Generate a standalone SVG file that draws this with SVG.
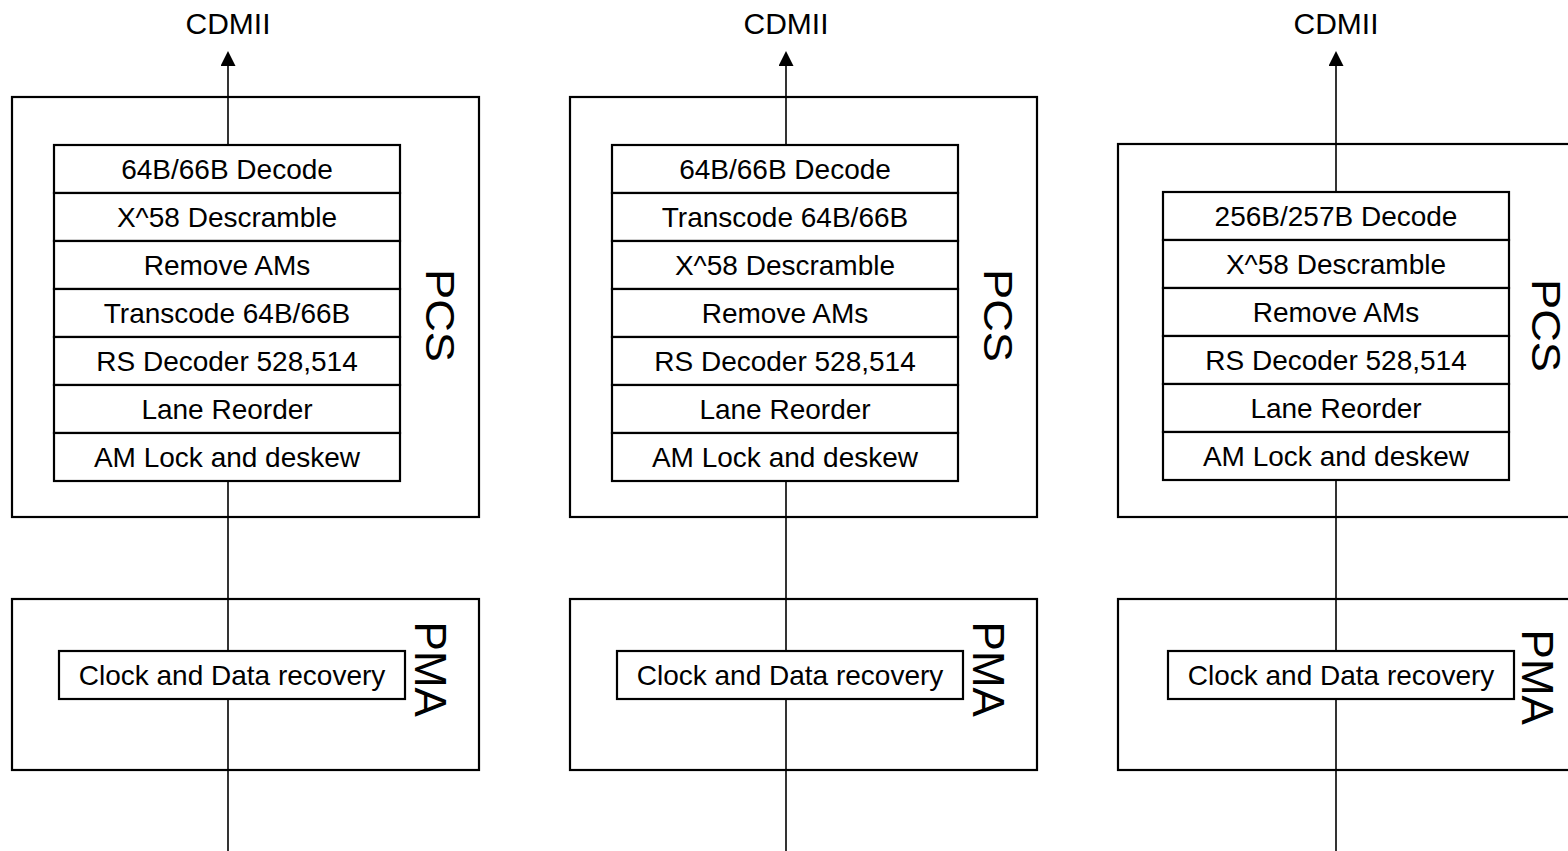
<svg xmlns="http://www.w3.org/2000/svg" width="1568" height="851" viewBox="0 0 1568 851">
<style>
.box{fill:none;stroke:#000;stroke-width:2.2}
.blk{fill:#fff;stroke:#000;stroke-width:2.2}
.ln{fill:none;stroke:#000;stroke-width:1.6}
.t{font-family:"Liberation Sans",Arial,sans-serif;font-size:28px;fill:#000;text-anchor:middle}
.h{font-family:"Liberation Sans",Arial,sans-serif;font-size:30px;fill:#000;text-anchor:middle}
.pcs{font-family:"Liberation Sans",Arial,sans-serif;font-size:40px;fill:#000}
.pma{font-family:"Liberation Sans",Arial,sans-serif;font-size:44px;fill:#000}
</style>
<defs>
<marker id="arr" markerUnits="userSpaceOnUse" viewBox="0 0 15 15" refX="6" refY="7.5" markerWidth="15" markerHeight="15" orient="auto">
<path d="M0,0 L15,7.5 L0,15 z" fill="#000"/>
</marker>
</defs>
<rect width="1568" height="851" fill="#fff"/>

<g id="connectors">
<line class="ln" x1="228" y1="145" x2="228" y2="60" marker-end="url(#arr)"/>
<line class="ln" x1="228" y1="481" x2="228" y2="651"/>
<line class="ln" x1="228" y1="699" x2="228" y2="851"/>
<line class="ln" x1="786" y1="145" x2="786" y2="60" marker-end="url(#arr)"/>
<line class="ln" x1="786" y1="481" x2="786" y2="651"/>
<line class="ln" x1="786" y1="699" x2="786" y2="851"/>
<line class="ln" x1="1336" y1="192" x2="1336" y2="60" marker-end="url(#arr)"/>
<line class="ln" x1="1336" y1="480" x2="1336" y2="651"/>
<line class="ln" x1="1336" y1="699" x2="1336" y2="851"/>
</g>

<g id="cdmii1"><text class="h" x="228" y="34">CDMII</text></g>
<g id="cdmii2"><text class="h" x="786" y="34">CDMII</text></g>
<g id="cdmii3"><text class="h" x="1336" y="34">CDMII</text></g>

<g id="pcs1">
<rect class="box" x="12" y="97" width="467" height="420"/>
<text class="pcs" transform="translate(426,269) rotate(90)" textLength="93" lengthAdjust="spacingAndGlyphs">PCS</text>
</g>
<g id="stack1">
<rect class="blk" x="54" y="145" width="346" height="48"/><text class="t" x="227" y="179">64B/66B Decode</text>
<rect class="blk" x="54" y="193" width="346" height="48"/><text class="t" x="227" y="227">X^58 Descramble</text>
<rect class="blk" x="54" y="241" width="346" height="48"/><text class="t" x="227" y="275">Remove AMs</text>
<rect class="blk" x="54" y="289" width="346" height="48"/><text class="t" x="227" y="323">Transcode 64B/66B</text>
<rect class="blk" x="54" y="337" width="346" height="48"/><text class="t" x="227" y="371">RS Decoder 528,514</text>
<rect class="blk" x="54" y="385" width="346" height="48"/><text class="t" x="227" y="419">Lane Reorder</text>
<rect class="blk" x="54" y="433" width="346" height="48"/><text class="t" x="227" y="467">AM Lock and deskew</text>
</g>
<g id="pma1">
<rect class="box" x="12" y="599" width="467" height="171"/>
<text class="pma" transform="translate(415,621.6) rotate(90)">PMA</text>
</g>
<g id="cdr1">
<rect class="blk" x="59" y="651" width="346" height="48"/><text class="t" x="232" y="685">Clock and Data recovery</text>
</g>

<g id="pcs2">
<rect class="box" x="570" y="97" width="467" height="420"/>
<text class="pcs" transform="translate(984,269) rotate(90)" textLength="93" lengthAdjust="spacingAndGlyphs">PCS</text>
</g>
<g id="stack2">
<rect class="blk" x="612" y="145" width="346" height="48"/><text class="t" x="785" y="179">64B/66B Decode</text>
<rect class="blk" x="612" y="193" width="346" height="48"/><text class="t" x="785" y="227">Transcode 64B/66B</text>
<rect class="blk" x="612" y="241" width="346" height="48"/><text class="t" x="785" y="275">X^58 Descramble</text>
<rect class="blk" x="612" y="289" width="346" height="48"/><text class="t" x="785" y="323">Remove AMs</text>
<rect class="blk" x="612" y="337" width="346" height="48"/><text class="t" x="785" y="371">RS Decoder 528,514</text>
<rect class="blk" x="612" y="385" width="346" height="48"/><text class="t" x="785" y="419">Lane Reorder</text>
<rect class="blk" x="612" y="433" width="346" height="48"/><text class="t" x="785" y="467">AM Lock and deskew</text>
</g>
<g id="pma2">
<rect class="box" x="570" y="599" width="467" height="171"/>
<text class="pma" transform="translate(973,621.6) rotate(90)">PMA</text>
</g>
<g id="cdr2">
<rect class="blk" x="617" y="651" width="346" height="48"/><text class="t" x="790" y="685">Clock and Data recovery</text>
</g>

<g id="pcs3">
<rect class="box" x="1118" y="144" width="467" height="373"/>
<text class="pcs" transform="translate(1532,279) rotate(90)" textLength="93" lengthAdjust="spacingAndGlyphs">PCS</text>
</g>
<g id="stack3">
<rect class="blk" x="1163" y="192" width="346" height="48"/><text class="t" x="1336" y="226">256B/257B Decode</text>
<rect class="blk" x="1163" y="240" width="346" height="48"/><text class="t" x="1336" y="274">X^58 Descramble</text>
<rect class="blk" x="1163" y="288" width="346" height="48"/><text class="t" x="1336" y="322">Remove AMs</text>
<rect class="blk" x="1163" y="336" width="346" height="48"/><text class="t" x="1336" y="370">RS Decoder 528,514</text>
<rect class="blk" x="1163" y="384" width="346" height="48"/><text class="t" x="1336" y="418">Lane Reorder</text>
<rect class="blk" x="1163" y="432" width="346" height="48"/><text class="t" x="1336" y="466">AM Lock and deskew</text>
</g>
<g id="pma3">
<rect class="box" x="1118" y="599" width="467" height="171"/>
<text class="pma" transform="translate(1522,629.6) rotate(90)">PMA</text>
</g>
<g id="cdr3">
<rect class="blk" x="1168" y="651" width="346" height="48"/><text class="t" x="1341" y="685">Clock and Data recovery</text>
</g>
</svg>
